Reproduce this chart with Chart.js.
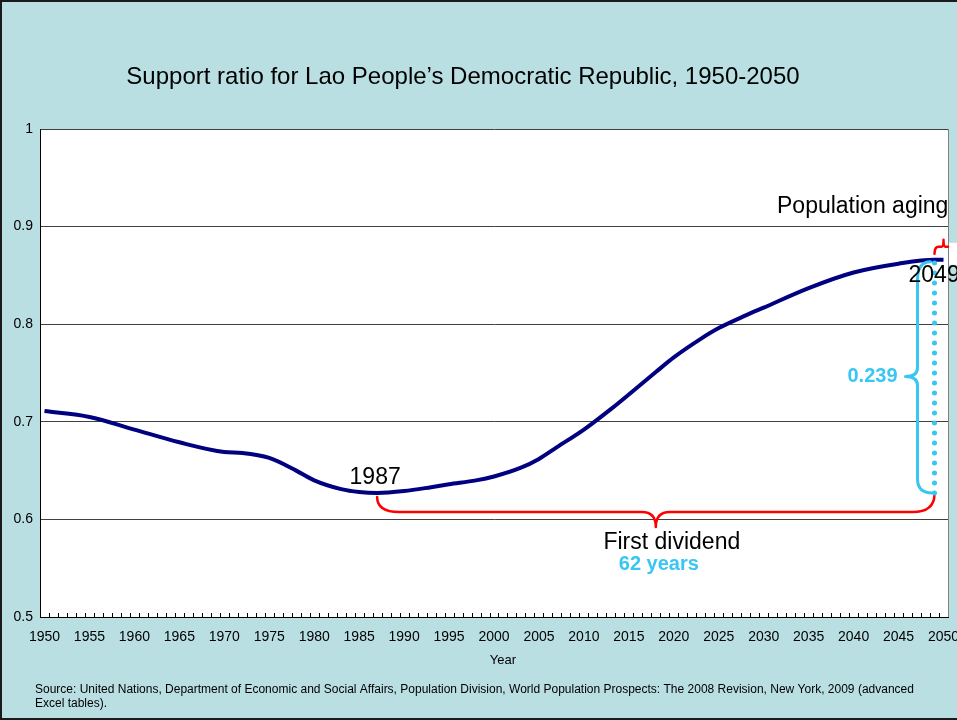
<!DOCTYPE html>
<html>
<head>
<meta charset="utf-8">
<title>Support ratio for Lao People's Democratic Republic, 1950-2050</title>
<script src="https://cdn.jsdelivr.net/npm/chart.js@4.4.1/dist/chart.umd.min.js"></script>
<style>
  html, body { margin: 0; padding: 0; background: #b9dfe2; }
  canvas { display: block; }
</style>
</head>
<body>
<canvas id="chart" width="957" height="720"></canvas>
<script>
// Support ratio (working-age population per consumer), Lao PDR
const years = [1950, 1955, 1960, 1965, 1970, 1972, 1975, 1978, 1980, 1983, 1985, 1987,
               1990, 1993, 1995, 1998, 2000, 2003, 2005, 2007, 2010, 2013, 2015, 2018,
               2020, 2023, 2025, 2028, 2030, 2035, 2040, 2045, 2049, 2050];
const supportRatio = [0.711, 0.705, 0.692, 0.679, 0.669, 0.668, 0.663, 0.650, 0.640, 0.631, 0.628, 0.627,
                      0.629, 0.633, 0.636, 0.640, 0.644, 0.653, 0.662, 0.674, 0.692, 0.713, 0.728, 0.751,
                      0.766, 0.785, 0.796, 0.809, 0.817, 0.837, 0.853, 0.862, 0.866, 0.866];
const xTickYears = [1950, 1955, 1960, 1965, 1970, 1975, 1980, 1985, 1990, 1995, 2000,
                    2005, 2010, 2015, 2020, 2025, 2030, 2035, 2040, 2045, 2050];
const yTicks = [0.5, 0.6, 0.7, 0.8, 0.9, 1];

// Dividend window: trough of the ratio and its peak
const troughYear = 1987;
const peakYear = 2049;

const FONT = "'Liberation Sans', Arial, Helvetica, sans-serif";
const BG = '#b9dfe2';
const RED = '#ff0000';
const CYAN = '#38c6f2';

Chart.defaults.font.family = FONT;
Chart.defaults.color = '#000';

function valueAt(year) {
  return supportRatio[years.indexOf(year)];
}

const frame = {
  id: 'frame',
  beforeDraw(chart) {
    const { ctx, chartArea: a, width, height } = chart;
    ctx.save();
    ctx.fillStyle = BG;
    ctx.fillRect(0, 0, width, height);
    ctx.fillStyle = '#fff';
    ctx.fillRect(a.left, a.top, a.right - a.left, a.bottom - a.top);
    ctx.strokeStyle = '#1a1a1a';
    ctx.lineWidth = 2;
    ctx.beginPath();
    ctx.moveTo(1, height);
    ctx.lineTo(1, 1);
    ctx.lineTo(width, 1);
    ctx.moveTo(0, height - 1);
    ctx.lineTo(width, height - 1);
    ctx.stroke();
    ctx.restore();
  },
  beforeDatasetsDraw(chart) {
    const { ctx, chartArea: a, scales: { x } } = chart;
    ctx.save();
    // plot area right edge
    ctx.strokeStyle = '#808080';
    ctx.lineWidth = 1;
    ctx.beginPath();
    ctx.moveTo(a.right + 0.5, a.top);
    ctx.lineTo(a.right + 0.5, a.bottom);
    ctx.stroke();
    // inward minor tick marks between years
    ctx.strokeStyle = '#000';
    ctx.beginPath();
    for (let yr = x.min + 1; yr < x.max; yr++) {
      const px = Math.round(x.getPixelForValue(yr)) + 0.5;
      ctx.moveTo(px, a.bottom);
      ctx.lineTo(px, a.bottom - 4);
    }
    ctx.stroke();
    ctx.restore();
  }
};

function brace(ctx, pts) {
  ctx.beginPath();
  ctx.moveTo(pts[0][0], pts[0][1]);
  for (let i = 1; i < pts.length; i++) {
    const p = pts[i];
    if (p.length === 4) ctx.quadraticCurveTo(p[0], p[1], p[2], p[3]);
    else ctx.lineTo(p[0], p[1]);
  }
  ctx.stroke();
}

const annotations = {
  id: 'annotations',
  afterDraw(chart) {
    const { ctx, chartArea: a, scales: { x, y } } = chart;
    const vLow = valueAt(troughYear);
    const vHigh = valueAt(peakYear);
    const x0 = x.getPixelForValue(troughYear);
    const x1 = x.getPixelForValue(peakYear);
    const xm = x.getPixelForValue((troughYear + peakYear) / 2);
    const yLow = y.getPixelForValue(vLow);
    const yHigh = y.getPixelForValue(vHigh);

    ctx.save();
    ctx.lineCap = 'round';
    ctx.lineJoin = 'round';

    // First dividend brace (red), hanging under the trough level
    const yb = yLow + 19;
    ctx.strokeStyle = RED;
    ctx.lineWidth = 2.5;
    brace(ctx, [
      [x0, yLow + 4],
      [x0, yb, x0 + 22, yb],
      [xm - 14, yb],
      [xm, yb, xm, yb + 15],
      [xm, yb, xm + 14, yb],
      [x1 - 22, yb],
      [x1, yb, x1, yLow + 1]
    ]);

    // Dotted vertical from trough level to the peak
    ctx.strokeStyle = CYAN;
    ctx.lineWidth = 5;
    ctx.setLineDash([0, 10]);
    ctx.beginPath();
    ctx.moveTo(x1, yLow);
    ctx.lineTo(x1, yHigh);
    ctx.stroke();
    ctx.setLineDash([]);

    // Ratio gain brace (cyan)
    const xv = x1 - 17;
    const ymid = (yLow + yHigh) / 2;
    ctx.lineWidth = 3;
    brace(ctx, [
      [x1 - 4, yHigh + 2],
      [xv, yHigh + 2, xv, yHigh + 20],
      [xv, ymid - 9],
      [xv, ymid, xv - 12, ymid],
      [xv, ymid, xv, ymid + 9],
      [xv, yLow - 14],
      [xv, yLow, x1 - 2, yLow]
    ]);

    // Population aging brace (red), at the right edge
    const ya = yHigh - 13;
    ctx.strokeStyle = RED;
    ctx.lineWidth = 2.5;
    ctx.fillStyle = '#fff';
    ctx.fillRect(a.right + 1, ya - 4, 9, 22);
    brace(ctx, [
      [x1, ya + 7],
      [x1, ya, x1 + 4, ya],
      [x1 + 7, ya],
      [x1 + 9, ya, x1 + 9, ya - 7],
      [x1 + 9, ya, x1 + 11, ya],
      [a.right, ya]
    ]);

    // Labels
    ctx.textBaseline = 'middle';
    ctx.fillStyle = '#000';
    ctx.font = '23px ' + FONT;
    ctx.textAlign = 'center';
    ctx.fillText(String(troughYear), x0 - 2, yLow - 15);
    ctx.fillText('First dividend', xm + 16, yb + 31);
    ctx.textAlign = 'left';
    ctx.fillText(String(peakYear), x1 - 26, yHigh + 16);
    ctx.fillText('Population aging', 777, yHigh - 53);

    ctx.fillStyle = CYAN;
    ctx.font = 'bold 20px ' + FONT;
    ctx.textAlign = 'center';
    ctx.fillText((peakYear - troughYear) + ' years', xm + 3, yb + 52);
    ctx.fillText((vHigh - vLow).toFixed(3), xv - 45, ymid);

    // Title, axis title, source
    ctx.fillStyle = '#000';
    ctx.font = '24px ' + FONT;
    ctx.fillText("Support ratio for Lao People\u2019s Democratic Republic, 1950-2050", 463, 77);
    ctx.font = '13px ' + FONT;
    ctx.fillText('Year', 503, 660);
    ctx.textAlign = 'left';
    ctx.font = '12px ' + FONT;
    ctx.fillText('Source: United Nations, Department of Economic and Social Affairs, Population Division, World Population Prospects: The 2008 Revision, New York, 2009 (advanced', 35, 690);
    ctx.fillText('Excel tables).', 35, 704);
    ctx.restore();
  }
};

new Chart(document.getElementById('chart'), {
  type: 'line',
  data: {
    datasets: [{
      label: 'Support ratio',
      data: years.map((yr, i) => ({ x: yr, y: supportRatio[i] })),
      borderColor: '#000080',
      borderWidth: 4,
      pointRadius: 0,
      cubicInterpolationMode: 'monotone',
      fill: false
    }]
  },
  options: {
    responsive: false,
    animation: false,
    devicePixelRatio: 1,
    layout: { padding: { left: 0, right: 9, top: 129, bottom: 0 } },
    plugins: { legend: { display: false }, tooltip: { enabled: false }, title: { display: false } },
    scales: {
      x: {
        type: 'linear',
        min: 1949.5,
        max: 2050.5,
        afterBuildTicks: s => { s.ticks = xTickYears.map(v => ({ value: v })); },
        afterFit: s => { s.height = 103; s.paddingLeft = 0; s.paddingRight = 0; },
        grid: { display: false, drawTicks: false },
        border: { display: true, color: '#000', width: 1 },
        ticks: { font: { size: 14 }, color: '#000', padding: 12, maxRotation: 0, autoSkip: false, callback: v => String(v) }
      },
      y: {
        min: 0.5,
        max: 1,
        afterBuildTicks: s => { s.ticks = yTicks.map(v => ({ value: v })); },
        afterFit: s => { s.width = 40; },
        grid: { color: '#404040', lineWidth: 1, drawTicks: false },
        border: { display: true, color: '#000', width: 1 },
        ticks: { font: { size: 14 }, color: '#000', padding: 7, callback: v => String(v) }
      }
    }
  },
  plugins: [frame, annotations]
});
</script>
</body>
</html>
